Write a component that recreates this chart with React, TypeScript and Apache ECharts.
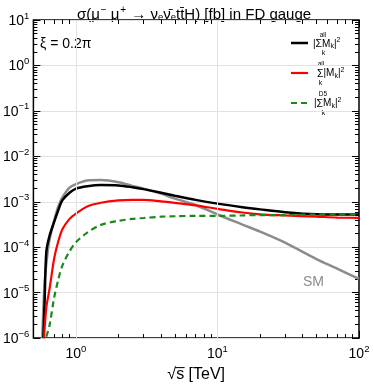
import React, { useEffect, useRef } from 'react';
import * as echarts from 'echarts';

// sqrt(s) [TeV] and cross sections [fb]
const xSM = [0.578, 0.6, 0.63, 0.65, 0.7, 0.75, 0.8, 0.9, 1, 1.2, 1.5, 2, 2.5, 3, 4, 5, 7, 10, 15, 20, 30, 50, 70, 100];
const ySM = [1.0e-6, 1.6e-5, 7.8e-5, 1.48e-4, 3.8e-4, 7.9e-4, 1.23e-3, 2.04e-3, 2.45e-3, 2.95e-3, 3.0e-3, 2.7e-3, 2.24e-3, 1.95e-3, 1.51e-3, 1.17e-3, 8.5e-4, 5.25e-4, 3.15e-4, 2.2e-4, 1.26e-4, 5.5e-5, 3.4e-5, 2.0e-5];

const xAll = [0.588, 0.6, 0.617, 0.65, 0.7, 0.75, 0.8, 0.9, 1, 1.2, 1.5, 2, 2.5, 3, 4, 5, 7, 10, 15, 20, 30, 50, 70, 100];
const yAll = [1.0e-6, 6.3e-6, 7.9e-5, 1.78e-4, 3.55e-4, 6.6e-4, 1.07e-3, 1.58e-3, 1.95e-3, 2.2e-3, 2.34e-3, 2.29e-3, 2.09e-3, 1.9e-3, 1.58e-3, 1.36e-3, 1.1e-3, 9.1e-4, 7.6e-4, 6.8e-4, 5.9e-4, 5.3e-4, 5.25e-4, 5.25e-4];

const xSumAbs = [0.594, 0.617, 0.65, 0.7, 0.75, 0.8, 0.9, 1, 1.2, 1.5, 2, 2.5, 3, 4, 5, 7, 10, 15, 20, 30, 50, 70, 100];
const ySumAbs = [1.0e-6, 4.7e-6, 1.2e-5, 5.5e-5, 1.35e-4, 2.45e-4, 4.2e-4, 5.5e-4, 7.9e-4, 9.5e-4, 1.07e-3, 1.1e-3, 1.1e-3, 1.02e-3, 9.5e-4, 8.3e-4, 7.0e-4, 5.8e-4, 5.3e-4, 5.0e-4, 4.7e-4, 4.5e-4, 4.4e-4];

const xD5 = [0.617, 0.65, 0.7, 0.75, 0.8, 0.9, 1, 1.2, 1.5, 2, 2.5, 3, 4, 5, 7, 10, 15, 20, 30, 50, 70, 100];
const yD5 = [1.07e-6, 1.9e-6, 7.6e-6, 1.95e-5, 3.9e-5, 8.1e-5, 1.29e-4, 2.1e-4, 3.1e-4, 3.8e-4, 4.2e-4, 4.4e-4, 4.7e-4, 4.8e-4, 4.9e-4, 4.9e-4, 5.0e-4, 5.1e-4, 5.1e-4, 5.25e-4, 5.25e-4, 5.25e-4];

const X_MIN = 0.5;
const X_MAX = 100;
const Y_MIN_EXP = -6;
const Y_MAX_EXP = 1;
const xMajorExps = [0, 1, 2];
const xGridExps = [0, 1];

const FONT = '"Liberation Sans", Arial, Helvetica, sans-serif';

const lg = (v: number) => Math.log10(v);
const toData = (xs: number[], ys: number[]) => xs.map((x, i) => [lg(x), lg(ys[i])]);

const minorLogs = (lo: number, hi: number) => {
  const out: number[] = [];
  for (let d = Math.floor(lo) - 1; d <= Math.ceil(hi); d++) {
    for (let k = 2; k <= 9; k++) {
      const v = d + Math.log10(k);
      if (v >= lo - 1e-9 && v <= hi + 1e-9) out.push(v);
    }
  }
  return out;
};

const pow10 = (e: number) => {
  const r = Math.round(e);
  return `{b|10}{s|${r < 0 ? '\u2212' + -r : r}}`;
};

const labelRich = {
  b: { fontSize: 14, fontFamily: FONT, color: '#000' },
  s: { fontSize: 9.5, fontFamily: FONT, color: '#000', padding: [0, 0, 10, 0] },
};

export default function App() {
  const ref = useRef<HTMLDivElement>(null);

  useEffect(() => {
    if (!ref.current) return;
    const chart = echarts.init(ref.current, null, { renderer: 'svg' });

    const xLo = lg(X_MIN);
    const xHi = lg(X_MAX);
    const xMinor = minorLogs(xLo, xHi);
    const yMinor = minorLogs(Y_MIN_EXP, Y_MAX_EXP);

    const xBase: any = {
      type: 'value',
      min: xLo,
      max: xHi,
      axisLine: { show: false, onZero: false },
      splitLine: { show: false },
      axisLabel: { show: false },
      axisTick: { show: false },
    };
    const majorX = { show: true, inside: true, length: 7, customValues: xMajorExps, lineStyle: { color: '#000', width: 1 } };
    const minorX = { show: true, inside: true, length: 4, customValues: xMinor, lineStyle: { color: '#000', width: 1 } };

    const yBase: any = {
      type: 'value',
      min: Y_MIN_EXP,
      max: Y_MAX_EXP,
      interval: 1,
      axisLine: { show: false, onZero: false },
      splitLine: { show: false },
      axisLabel: { show: false },
      axisTick: { show: false },
    };
    const majorY = { show: true, inside: true, length: 7, lineStyle: { color: '#000', width: 1 } };
    const minorY = { show: true, inside: true, length: 4, customValues: yMinor, lineStyle: { color: '#000', width: 1 } };

    const txt = (text: string, x: number, y: number, fontSize: number, extra: any = {}) => ({
      type: 'text',
      x,
      y,
      silent: true,
      style: { text, fontSize, fontFamily: FONT, fill: '#000', textAlign: 'left', textVerticalAlign: 'middle', ...extra },
    });

    const entryRich = {
      n: { fontSize: 10, fontFamily: FONT, color: '#000' },
      g: { fontSize: 10.5, fontFamily: FONT, color: '#000' },
      sub: { fontSize: 7, fontFamily: FONT, color: '#000', padding: [5, 0, 0, 0] },
      sup: { fontSize: 7, fontFamily: FONT, color: '#000', padding: [0, 0, 7, 0] },
    };

    const lineSeries = (name: string, data: number[][], lineStyle: any, z: number, extra: any = {}) => ({
      name,
      type: 'line',
      xAxisIndex: 0,
      yAxisIndex: 0,
      data,
      showSymbol: false,
      symbol: 'none',
      smooth: 0.3,
      lineStyle,
      z,
      ...extra,
    });

    const option: any = {
      animation: false,
      grid: { left: 31, right: 15, top: 20, bottom: 39.5, show: true, borderColor: '#000', borderWidth: 1.5, containLabel: false },
      xAxis: [
        {
          ...xBase,
          position: 'bottom',
          axisTick: majorX,
          axisLabel: { show: true, customValues: xMajorExps, formatter: (v: number) => pow10(v), margin: 5, rich: labelRich },
          name: '\u221As\u0305 [TeV]',
          nameLocation: 'middle',
          nameGap: 18,
          nameTextStyle: { fontSize: 16, fontFamily: FONT, color: '#000' },
        },
        { ...xBase, position: 'bottom', axisTick: minorX },
        { ...xBase, position: 'top', axisTick: majorX },
        { ...xBase, position: 'top', axisTick: minorX },
      ],
      yAxis: [
        {
          ...yBase,
          position: 'left',
          axisTick: majorY,
          axisLabel: { show: true, formatter: (v: number) => pow10(v), margin: 4, rich: labelRich },
          splitLine: { show: true, lineStyle: { color: '#e2e2e2', width: 1 } },
        },
        { ...yBase, position: 'left', axisTick: minorY },
        { ...yBase, position: 'right', axisTick: majorY },
        { ...yBase, position: 'right', axisTick: minorY },
      ],
      series: [
        lineSeries('SM', toData(xSM, ySM), { color: '#8c8c8c', width: 2.5 }, 2, {
          markLine: {
            silent: true,
            symbol: 'none',
            label: { show: false },
            lineStyle: { color: '#e2e2e2', width: 1, type: 'solid' },
            data: xGridExps.map((e) => ({ xAxis: e })),
          },
        }),
        lineSeries('all', toData(xAll, yAll), { color: '#000', width: 2.5 }, 3),
        lineSeries('sumabs', toData(xSumAbs, ySumAbs), { color: '#ff0000', width: 2.2 }, 4),
        lineSeries('D5', toData(xD5, yD5), { color: '#1a8a1a', width: 2.2, type: [6, 4] }, 5),
      ],
      graphic: [
        {
          type: 'text',
          x: 194,
          y: 13,
          silent: true,
          style: {
            text: '{n|\u03C3(\u03BC}{sup|\u2212}{n|\u2009\u03BC}{sup|+}{n| \u2192 \u03BD}{sub|e}{n|\u03BD\u0304}{sub|e}{n|tt\u0304H) [fb] in FD gauge}',
            textAlign: 'center',
            textVerticalAlign: 'middle',
            rich: {
              n: { fontSize: 15, fontFamily: FONT, color: '#000' },
              sup: { fontSize: 10, fontFamily: FONT, color: '#000', padding: [0, 1, 8, 1] },
              sub: { fontSize: 9.5, fontFamily: FONT, color: '#000', padding: [6, 0, 0, 0] },
            },
          },
        },
        txt('\u03BE = 0.2\u03C0', 40, 43, 14),
        txt('SM', 303, 281, 14, { fill: '#8c8c8c' }),
        // legend entry 1
        { type: 'line', silent: true, shape: { x1: 291, y1: 43, x2: 308, y2: 43 }, style: { stroke: '#000', lineWidth: 2.5 } },
        { type: 'text', x: 313, y: 43, silent: true, style: { text: '{n||}{g|\u03A3}{n|M}{sub|k}{n||}{sup|2}', textVerticalAlign: 'middle', rich: entryRich } },
        txt('all', 323, 34.5, 6.5, { textAlign: 'center' }),
        txt('k', 323.5, 52.5, 7, { textAlign: 'center' }),
        // legend entry 2
        { type: 'line', silent: true, shape: { x1: 291, y1: 73, x2: 308, y2: 73 }, style: { stroke: '#ff0000', lineWidth: 2.2 } },
        { type: 'text', x: 317, y: 72.5, silent: true, style: { text: '{g|\u03A3}{n||M}{sub|k}{n||}{sup|2}', textVerticalAlign: 'middle', rich: entryRich } },
        txt('all', 321, 63.5, 6.5, { textAlign: 'center' }),
        txt('k', 320.5, 82.5, 7, { textAlign: 'center' }),
        // legend entry 3
        { type: 'line', silent: true, shape: { x1: 291, y1: 103, x2: 308, y2: 103 }, style: { stroke: '#1a8a1a', lineWidth: 2.2, lineDash: [6, 4] } },
        { type: 'text', x: 314, y: 102.5, silent: true, style: { text: '{n||}{g|\u03A3}{n|M}{sub|k}{n||}{sup|2}', textVerticalAlign: 'middle', rich: entryRich } },
        txt('D5', 323, 93.5, 6.5, { textAlign: 'center' }),
        txt('k', 323.5, 112, 7, { textAlign: 'center' }),
      ],
    };

    chart.setOption(option);
    return () => chart.dispose();
  }, []);

  return <div ref={ref} style={{ position: 'fixed', left: 0, top: 0, width: 374, height: 386 }} />;
}
